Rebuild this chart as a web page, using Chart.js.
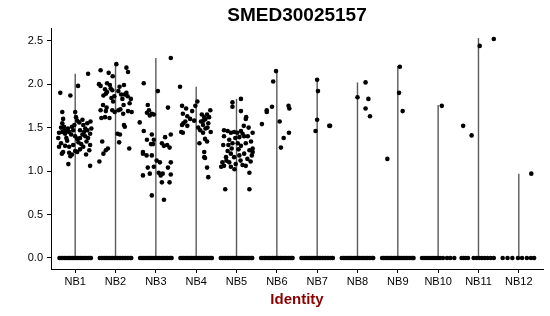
<!DOCTYPE html>
<html>
<head>
<meta charset="utf-8">
<script src="https://cdn.jsdelivr.net/npm/chart.js@4/dist/chart.umd.min.js"></script>
<style>
  html, body { margin: 0; padding: 0; background: #fff; }
  #wrap { width: 550px; height: 316px; }
</style>
</head>
<body>
<div id="wrap"><canvas id="vln"></canvas></div>
<script>
// groups on the x axis
const categories = ['NB1', 'NB2', 'NB3', 'NB4', 'NB5', 'NB6', 'NB7', 'NB8', 'NB9', 'NB10', 'NB11', 'NB12'];
const yTicks = [0, 0.5, 1, 1.5, 2, 2.5];
// top of each (very thin) violin
const violinMax = [2.12, 2.24, 2.30, 1.97, 1.83, 2.15, 2.05, 2.02, 2.21, 1.76, 2.53, 0.97];

// expressing cells: [jitter offset, expression]
const nb1 = [[-0.37,1.90],[-0.12,1.87],[0.07,1.98],[0.32,2.12],[-0.32,1.68],[0.0,1.68],
  [-0.30,1.60],[-0.32,1.55],[-0.28,1.51],[-0.27,1.47],[-0.22,1.46],[-0.18,1.49],[-0.32,1.45],[-0.40,1.44],
  [-0.25,1.43],[-0.15,1.45],[-0.05,1.47],[-0.02,1.53],[0.02,1.62],[0.05,1.58],[0.10,1.56],[0.18,1.59],
  [0.20,1.53],[0.25,1.49],[0.30,1.47],[0.22,1.45],[0.18,1.42],[0.38,1.57],[0.40,1.49],[0.37,1.43],
  [0.25,1.40],[0.12,1.38],[0.0,1.40],[-0.10,1.42],[-0.42,1.38],[-0.35,1.32],[-0.25,1.29],[-0.15,1.28],
  [-0.05,1.30],[0.08,1.33],[0.15,1.31],[0.28,1.34],[-0.30,1.22],[-0.15,1.21],[0.0,1.23],[0.12,1.25],
  [0.20,1.28],[0.35,1.24],[0.37,1.30],[-0.17,1.08],[0.37,1.06],[-0.33,1.20],[-0.12,1.17],[-0.08,1.19],
  [0.05,1.22],[0.27,1.19],[-0.20,1.35],[-0.40,1.28],[0.05,1.37],[0.32,1.38],[-0.08,1.51],[0.12,1.47],
  [-0.35,1.50],[0.30,1.55],[-0.22,1.38]];
const nb2 = [[0.02,2.23],[-0.37,2.16],[0.27,2.19],[0.31,2.14],[-0.17,2.13],[-0.07,2.09],[-0.41,2.00],
  [-0.37,1.98],[-0.21,2.01],[-0.14,1.99],[0.21,1.99],[-0.26,1.94],[-0.21,1.91],[-0.24,1.89],[-0.08,1.93],
  [0.07,1.92],[0.27,1.90],[0.30,1.86],[0.23,1.88],[0.17,1.83],[-0.10,1.84],[-0.06,1.80],[0.20,1.76],
  [0.12,1.71],[-0.31,1.76],[-0.22,1.73],[-0.08,1.70],[-0.02,1.68],[-0.37,1.70],[-0.24,1.69],[0.07,1.70],
  [0.31,1.69],[0.40,1.68],[0.19,1.66],[0.21,1.53],[0.23,1.51],[-0.35,1.61],[-0.26,1.62],[-0.15,1.61],
  [0.05,1.43],[0.11,1.42],[-0.33,1.34],[0.09,1.33],[-0.24,1.24],[-0.19,1.26],[0.34,1.26],[-0.30,1.20],
  [0.38,1.83],[0.35,1.78],[-0.12,1.95],[0.14,1.88],[-0.03,1.86],[0.10,1.97],[-0.30,1.87],[-0.40,1.11]];
const nb3 = [[-0.30,2.01],[0.37,2.30],[0.05,1.92],[-0.20,1.76],[-0.17,1.70],[-0.10,1.66],[-0.05,1.65],
  [-0.40,1.56],[-0.30,1.46],[-0.10,1.42],[-0.05,1.36],[0.23,1.39],[0.37,1.42],[0.34,1.27],[-0.22,1.36],
  [-0.32,1.22],[-0.10,1.18],[-0.32,1.20],[-0.23,1.18],[0.02,1.12],[0.10,1.10],[-0.20,1.04],[-0.32,0.95],
  [-0.15,0.97],[-0.05,1.05],[0.07,0.98],[0.17,0.97],[0.12,0.95],[0.15,0.87],[0.34,0.87],[0.37,0.96],
  [0.37,1.10],[-0.10,0.72],[0.20,0.67],[0.30,1.04],[-0.12,1.31],[-0.07,1.31],[0.15,1.32],[0.20,1.29],
  [0.28,1.30],[-0.22,1.67],[-0.15,1.64],[0.30,1.73]];
const nb4 = [[-0.40,1.97],[-0.35,1.75],[-0.25,1.72],[-0.10,1.69],[-0.02,1.75],[0.03,1.80],[-0.33,1.66],
  [-0.22,1.63],[-0.35,1.53],[-0.32,1.55],[-0.27,1.57],[-0.33,1.44],[-0.37,1.45],[-0.22,1.52],[0.14,1.65],
  [0.20,1.62],[0.23,1.60],[0.27,1.65],[0.35,1.70],[0.12,1.57],[0.17,1.53],[0.23,1.49],[0.28,1.50],
  [0.36,1.45],[0.05,1.50],[0.17,1.44],[0.22,1.37],[0.27,1.34],[0.08,1.32],[0.20,1.22],[0.22,1.15],
  [0.20,1.16],[0.27,1.04],[0.30,0.93],[-0.15,1.60],[-0.05,1.58],[0.10,1.47],[0.30,1.55],[0.18,1.58],
  [0.32,1.62]];
const nb5 = [[0.11,1.83],[-0.10,1.79],[-0.10,1.74],[0.11,1.69],[0.23,1.60],[0.24,1.62],[-0.31,1.47],
  [-0.22,1.46],[-0.14,1.44],[-0.06,1.45],[0.02,1.44],[0.11,1.46],[0.15,1.43],[0.19,1.40],[0.40,1.44],
  [-0.31,1.40],[-0.18,1.36],[-0.10,1.32],[-0.20,1.30],[0.03,1.32],[0.11,1.29],[0.23,1.32],[0.36,1.34],
  [0.40,1.26],[0.32,1.24],[0.19,1.20],[0.07,1.18],[-0.06,1.16],[-0.14,1.20],[-0.22,1.23],[-0.26,1.16],
  [-0.35,1.10],[-0.31,1.06],[-0.14,1.05],[-0.02,1.08],[0.15,1.07],[0.23,1.06],[0.40,1.22],[0.38,1.18],
  [0.32,0.98],[-0.28,0.79],[0.32,0.79],[-0.38,1.05],[-0.25,1.12],[0.05,1.25],[-0.03,1.38],[0.28,1.40],
  [-0.12,1.26],[0.27,1.14],[0.35,1.11],[-0.05,1.02],[0.10,1.12],[-0.33,1.30],[0.07,1.39],[-0.18,1.10],
  [0.30,1.50],[0.18,1.52]];
const nb6 = [[-0.02,2.15],[-0.09,2.03],[-0.25,1.70],[-0.25,1.68],[-0.12,1.74],[0.29,1.75],[0.31,1.72],
  [-0.37,1.54],[0.07,1.57],[0.30,1.44],[0.17,1.38],[0.10,1.27]];
const nb7 = [[0.0,2.05],[0.02,1.92],[0.0,1.59],[-0.04,1.46],[0.30,1.52],[0.32,1.52]];
const nb8 = [[0.20,2.02],[0.0,1.85],[0.27,1.83],[0.20,1.72],[0.31,1.63]];
const nb9 = [[0.05,2.20],[0.03,1.90],[0.12,1.69],[-0.26,1.14]];
const nb10 = [[0.09,1.75]];
const nb11 = [[-0.38,1.52],[-0.17,1.41],[0.03,2.44],[0.38,2.52]];
const nb12 = [[0.31,0.97]];
const expressing = [nb1, nb2, nb3, nb4, nb5, nb6, nb7, nb8, nb9, nb10, nb11, nb12];

// jitter offsets of the zero-expression cells
const zeroDense = [-0.39,-0.35,-0.31,-0.27,-0.23,-0.19,-0.15,-0.11,-0.07,-0.03,0.01,0.05,0.09,0.13,0.17,0.21,0.25,0.29,0.33,0.37,0.39];
const zeroNB10 = [-0.40,-0.35,-0.30,-0.25,-0.20,-0.15,-0.10,-0.05,0.0,0.05,0.12,0.22,0.30,0.40];
const zeroNB11 = [-0.42,-0.37,-0.32,-0.26,-0.12,-0.05,0.02,0.08,0.15,0.22,0.30,0.38];
const zeroNB12 = [-0.40,-0.28,-0.16,-0.02,0.08,0.20,0.30,0.38];
const zeroOffsets = [zeroDense, zeroDense, zeroDense, zeroDense, zeroDense, zeroDense, zeroDense, zeroDense, zeroDense, zeroNB10, zeroNB11, zeroNB12];

const FONT = '"Liberation Sans", Arial, Helvetica, sans-serif';

document.addEventListener('DOMContentLoaded', function() {
    var datasets = [];

    violinMax.forEach(function(top, i) {
        datasets.push({
            type: 'line',
            data: [{x: i + 1, y: 0}, {x: i + 1, y: top}],
            borderColor: '#5a5a5a',
            borderWidth: 1.4,
            pointRadius: 0,
            order: 2
        });
    });

    var pts = [];
    expressing.forEach(function(group, i) {
        group.forEach(function(p) { pts.push({x: i + 1 + p[0], y: p[1]}); });
        zeroOffsets[i].forEach(function(off) { pts.push({x: i + 1 + off, y: 0}); });
    });
    datasets.push({
        type: 'scatter',
        data: pts,
        pointRadius: 2.3,
        pointBackgroundColor: '#000',
        pointBorderWidth: 0,
        order: 1
    });

    var titlePlugin = {
        id: 'topTitle',
        afterDraw: function(chart) {
            var c = chart.ctx, a = chart.chartArea;
            c.save();
            c.font = 'bold 19px ' + FONT;
            c.fillStyle = '#000';
            c.textAlign = 'center';
            c.textBaseline = 'middle';
            c.fillText('SMED30025157', (a.left + a.right) / 2, 16);
            c.restore();
        }
    };

    new Chart(document.getElementById('vln').getContext('2d'), {
        data: { datasets: datasets },
        plugins: [titlePlugin],
        options: {
            responsive: true,
            maintainAspectRatio: false,
            animation: false,
            layout: { padding: { top: 28, right: 7, bottom: 0, left: 0 } },
            plugins: { legend: { display: false }, tooltip: { enabled: false } },
            scales: {
                x: {
                    type: 'linear',
                    min: 0.4,
                    max: 12.6,
                    afterBuildTicks: function(s) { s.ticks = categories.map(function(c, i) { return {value: i + 1}; }); },
                    afterFit: function(s) { s.height = 47; },
                    ticks: {
                        autoSkip: false,
                        maxRotation: 0,
                        padding: 2,
                        color: '#000',
                        font: { family: FONT, size: 11 },
                        callback: function(v) { return categories[Math.round(v) - 1]; }
                    },
                    grid: { drawOnChartArea: false, drawTicks: true, tickLength: 4, color: '#000' },
                    border: { display: true, color: '#000', width: 1 },
                    title: {
                        display: true,
                        text: 'Identity',
                        color: '#8b0000',
                        font: { family: FONT, size: 15, weight: 'bold' },
                        padding: { top: 2, bottom: 7 }
                    }
                },
                y: {
                    type: 'linear',
                    min: -0.127,
                    max: 2.646,
                    afterBuildTicks: function(s) { s.ticks = yTicks.map(function(v) { return {value: v}; }); },
                    afterFit: function(s) { s.width = 51; },
                    ticks: {
                        padding: 4,
                        color: '#000',
                        font: { family: FONT, size: 11 },
                        callback: function(v) { return Number(v).toFixed(1); }
                    },
                    grid: { drawOnChartArea: false, drawTicks: true, tickLength: 4, color: '#000' },
                    border: { display: true, color: '#000', width: 1 }
                }
            }
        }
    });
});
</script>
</body>
</html>
